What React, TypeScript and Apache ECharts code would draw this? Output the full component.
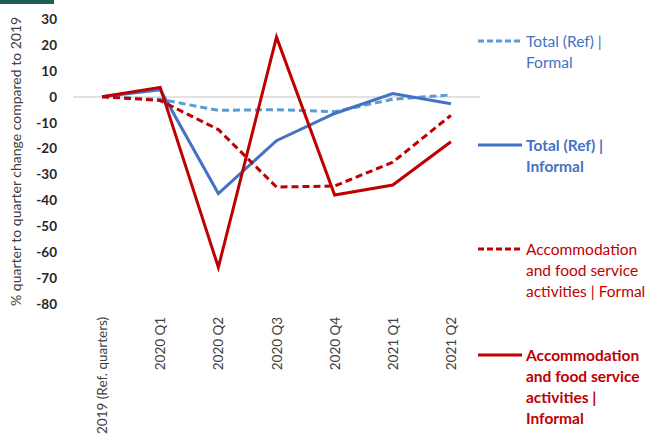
import React, { useEffect, useRef } from "react";
import * as echarts from "echarts";

const categories = ["2019 (Ref. quarters)", "2020 Q1", "2020 Q2", "2020 Q3", "2020 Q4", "2021 Q1", "2021 Q2"];
const totalFormal = [0, -1, -5.3, -5, -5.8, -1, 0.7];
const totalInformal = [0, 2.7, -37.4, -17, -6.5, 1.2, -2.7];
const accomFormal = [0, -1.5, -12.7, -34.9, -34.5, -25.3, -7.2];
const accomInformal = [0, 3.6, -65.9, 23, -38, -34.1, -17.4];
const yTicks = { min: -80, max: 30, interval: 10 };

const FONT = "Lato, 'Open Sans', sans-serif";
const LIGHT_BLUE = "#5B9BD5";
const BLUE = "#4472C4";
const RED = "#C00000";

const legendItems = [
  { text: "Total (Ref) |\nFormal", color: LIGHT_BLUE, textColor: BLUE, dashed: true, bold: false, y: 41 },
  { text: "Total (Ref) |\nInformal", color: BLUE, textColor: BLUE, dashed: false, bold: true, y: 145 },
  { text: "Accommodation\nand food service\nactivities | Formal", color: RED, textColor: RED, dashed: true, bold: false, y: 249 },
  { text: "Accommodation\nand food service\nactivities |\nInformal", color: RED, textColor: RED, dashed: false, bold: true, y: 355 },
];

export default function App() {
  const ref = useRef<HTMLDivElement>(null);
  useEffect(() => {
    if (!ref.current) return;
    const chart = echarts.init(ref.current, null, { renderer: "svg" });
    const graphics: any[] = [
      { type: "rect", left: 0, top: 0, shape: { width: 54, height: 4 }, style: { fill: "#1B5E52" } },
    ];
    legendItems.forEach((it) => {
      graphics.push({
        type: "line",
        shape: { x1: 478, y1: it.y, x2: 522, y2: it.y },
        style: { stroke: it.color, lineWidth: 3, lineDash: it.dashed ? [6, 3] : null },
      });
      graphics.push({
        type: "text",
        x: 526,
        y: it.y - 10.5,
        style: {
          text: it.text,
          fill: it.textColor,
          font: `${it.bold ? "bold " : ""}15.5px ${FONT}`,
          lineHeight: 21,
          verticalAlign: "top",
          align: "left",
        },
      });
    });
    const mk = (name: string, data: number[], color: string, dashed: boolean, z: number, extra: any = {}) => ({
      name,
      type: "line",
      data,
      symbol: "none",
      z,
      lineStyle: { color, width: 3, type: dashed ? [7, 4] : "solid", cap: "butt", join: "miter" },
      ...extra,
    });
    chart.setOption({
      animation: false,
      textStyle: { fontFamily: FONT },
      grid: { left: 73, right: 175, top: 19, bottom: 132 },
      xAxis: {
        type: "category",
        data: categories,
        boundaryGap: true,
        axisLine: { show: false },
        axisTick: { show: false },
        axisLabel: { rotate: 90, margin: 13, fontSize: 13.5, color: "#404040", fontFamily: FONT, interval: 0 },
      },
      yAxis: {
        type: "value",
        min: yTicks.min,
        max: yTicks.max,
        interval: yTicks.interval,
        splitLine: { show: false },
        axisLine: { show: false },
        axisTick: { show: false },
        axisLabel: { fontSize: 13.5, fontWeight: "bold", color: "#262626", margin: 16, fontFamily: FONT },
        name: "% quarter to quarter change compared to 2019",
        nameLocation: "middle",
        nameGap: 51,
        nameTextStyle: { fontSize: 14, color: "#404040", fontFamily: FONT },
      },
      series: [
        mk("Total (Ref) | Formal", totalFormal, LIGHT_BLUE, true, 2, {
          markLine: {
            silent: true,
            symbol: "none",
            label: { show: false },
            lineStyle: { color: "#D9D9D9", width: 1.5, type: "solid" },
            data: [{ yAxis: 0 }],
            z: 1,
          },
        }),
        mk("Total (Ref) | Informal", totalInformal, BLUE, false, 3),
        mk("Accommodation and food service activities | Formal", accomFormal, RED, true, 4),
        mk("Accommodation and food service activities | Informal", accomInformal, RED, false, 5),
      ],
      graphic: graphics,
    });
    return () => chart.dispose();
  }, []);
  return <div ref={ref} style={{ position: "absolute", left: 0, top: 0, width: 655, height: 437 }} />;
}
